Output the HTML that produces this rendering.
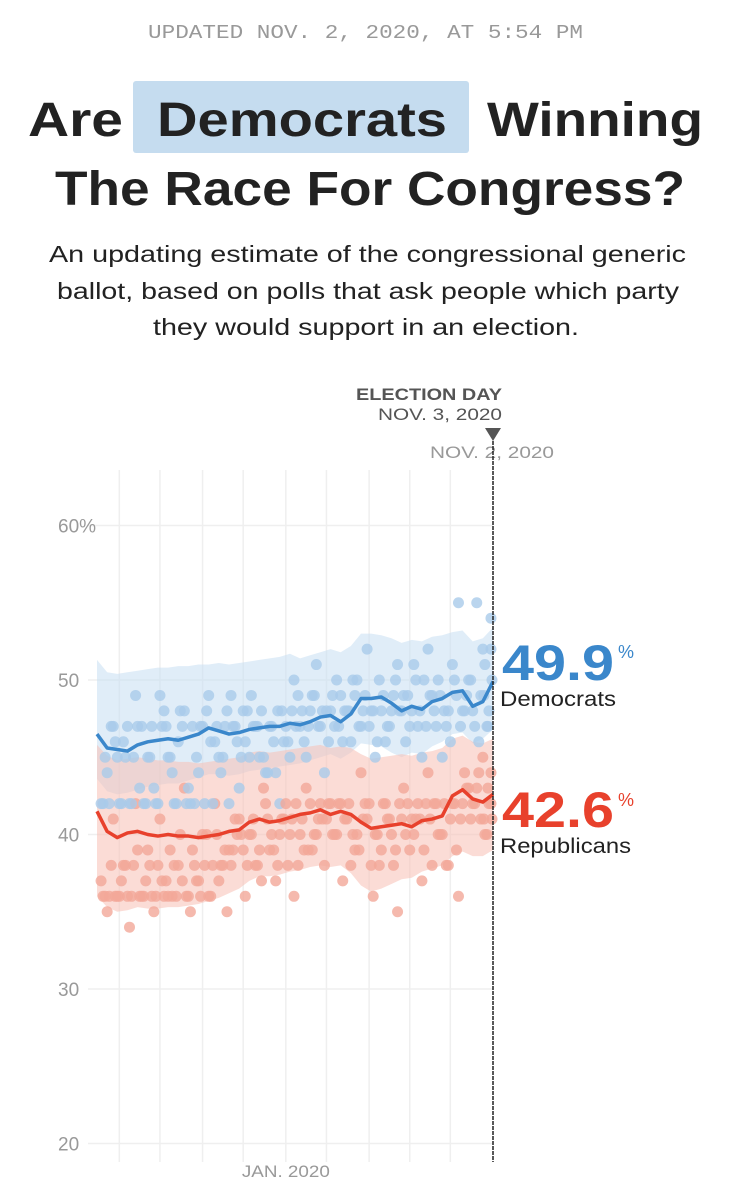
<!DOCTYPE html>
<html><head><meta charset="utf-8"><style>
html,body{margin:0;padding:0;background:#fff;}
svg{display:block;}
</style></head><body>
<svg id="chart" width="731" height="1200" viewBox="0 0 731 1200" xmlns="http://www.w3.org/2000/svg" font-family="'Liberation Sans', sans-serif">
<text x="148" y="38" font-family="'Liberation Mono', monospace" font-size="19" fill="#999" textLength="435" lengthAdjust="spacingAndGlyphs">UPDATED NOV. 2, 2020, AT 5:54 PM</text>
<rect x="133" y="81" width="336" height="72" rx="3" fill="#c5dcef"/>
<text font-size="48" font-weight="bold" fill="#222" y="136">
<tspan x="28" textLength="95" lengthAdjust="spacingAndGlyphs">Are</tspan>
<tspan x="157" textLength="290" lengthAdjust="spacingAndGlyphs">Democrats</tspan>
<tspan x="487" textLength="216" lengthAdjust="spacingAndGlyphs">Winning</tspan></text>
<text x="55" y="205" font-size="48" font-weight="bold" fill="#222" textLength="630" lengthAdjust="spacingAndGlyphs">The Race For Congress?</text>
<g font-size="23" fill="#222">
<text x="49" y="262" textLength="637" lengthAdjust="spacingAndGlyphs">An updating estimate of the congressional generic</text>
<text x="57" y="299" textLength="622" lengthAdjust="spacingAndGlyphs">ballot, based on polls that ask people which party</text>
<text x="153" y="335" textLength="426" lengthAdjust="spacingAndGlyphs">they would support in an election.</text>
</g>
<g id="plot"></g>
<g>
<text x="502" y="400" text-anchor="end" font-size="17" font-weight="bold" fill="#555" textLength="146" lengthAdjust="spacingAndGlyphs">ELECTION DAY</text>
<text x="502" y="420" text-anchor="end" font-size="17" fill="#555" textLength="124" lengthAdjust="spacingAndGlyphs">NOV. 3, 2020</text>
<polygon points="485,428 501,428 493,441" fill="#555"/>
<text x="492" y="458" text-anchor="middle" font-size="17" fill="#999" textLength="124" lengthAdjust="spacingAndGlyphs">NOV. 2, 2020</text>
<line x1="493" y1="441" x2="493" y2="1162" stroke="#222" stroke-width="1.5" stroke-dasharray="4,1"/>
</g>
<g>
<text x="502" y="680" font-size="50" font-weight="bold" fill="#3a87cb" textLength="112" lengthAdjust="spacingAndGlyphs">49.9</text>
<text x="618" y="658" font-size="18" fill="#3a87cb">%</text>
<text x="500" y="706" font-size="21" fill="#222" textLength="116" lengthAdjust="spacingAndGlyphs">Democrats</text>
</g>
<g>
<text x="502" y="827" font-size="50" font-weight="bold" fill="#e8412c" textLength="112" lengthAdjust="spacingAndGlyphs">42.6</text>
<text x="618" y="806" font-size="18" fill="#e8412c">%</text>
<text x="500" y="853" font-size="21" fill="#222" textLength="131" lengthAdjust="spacingAndGlyphs">Republicans</text>
</g>
</svg>
<script>
// months since early Apr 2019, step 0.5
const demLine=[46.5,45.6,45.5,45.4,45.8,46.0,46.1,46.2,46.1,46.3,46.5,46.9,46.7,46.5,46.6,46.8,46.9,47.0,47.0,47.2,47.1,47.3,47.6,47.7,47.3,47.8,48.8,48.8,48.9,48.5,48.0,48.3,48.1,48.6,48.8,49.2,49.3,48.3,48.6,49.9];
const repLine=[41.5,40.2,39.8,40.1,40.2,40.0,39.9,40.0,39.9,39.9,39.8,39.9,40.0,40.2,40.3,40.8,41.0,40.8,40.9,41.1,41.3,41.4,41.6,41.3,41.5,41.3,40.8,40.4,40.5,40.6,40.7,40.5,40.9,41.0,41.2,42.5,42.9,42.3,42.1,42.6];
const demHigh=[51.3,50.5,50.4,50.5,50.6,50.7,50.8,50.8,50.9,50.9,51.0,51.0,51.1,51.0,51.1,51.2,51.3,51.4,51.5,51.7,51.4,51.6,51.8,52.0,51.8,52.2,53.0,53.0,52.9,52.7,52.4,52.6,52.5,52.8,52.9,53.1,53.2,52.5,52.7,53.4];
const demLow=[43.6,42.8,42.6,42.7,42.9,43.1,43.2,43.3,43.3,43.5,43.7,43.9,43.9,43.8,43.9,44.1,44.2,44.3,44.4,44.5,44.6,44.8,45.0,45.2,44.9,45.3,45.9,45.8,45.7,45.3,45.0,45.3,45.2,45.7,46.0,46.5,46.6,45.9,46.2,46.8];
const repHigh=[45.8,45.1,44.8,44.9,45.0,44.9,44.8,44.8,44.7,44.7,44.6,44.7,44.8,44.9,45.0,45.3,45.4,45.3,45.4,45.5,45.6,45.7,45.8,45.6,45.7,45.6,45.2,44.9,45.0,45.1,45.2,45.1,45.3,45.4,45.6,46.2,46.4,46.0,45.9,46.2];
const repLow=[36.0,35.3,35.0,35.1,35.3,35.2,35.2,35.3,35.3,35.4,35.5,35.7,35.9,36.2,36.5,37.0,37.3,37.3,37.4,37.6,37.7,37.9,38.0,37.9,38.0,37.5,36.7,36.3,36.5,36.8,37.1,37.2,37.6,37.8,38.0,38.6,38.9,38.6,38.6,39.0];
const pollMonth=[0.2,0.5,0.8,1.0,1.3,1.6,1.9,2.2,2.5,2.8,3.1,3.4,3.7,4.0,4.3,4.6,4.9,5.2,5.5,5.8,6.1,6.4,6.7,7.0,7.3,7.6,7.9,8.2,8.5,8.8,9.1,9.4,9.7,10.0,10.3,10.6,10.9,11.2,11.5,11.8,12.1,12.4,12.7,13.0,13.3,13.6,13.9,14.2,14.5,14.8,15.1,15.4,15.7,16.0,16.3,16.6,16.9,17.2,17.5,17.8,18.1,18.4,18.7,19.0,19.2,19.4,
0.3,0.6,0.9,1.2,1.5,1.8,2.1,2.4,2.7,3.0,3.3,3.6,3.9,4.2,4.5,4.8,5.1,5.4,5.7,6.0,6.3,6.6,6.9,7.2,7.5,7.8,8.1,8.4,8.7,9.0,9.3,9.6,9.9,10.2,10.5,10.8,11.1,11.4,11.7,12.0,12.3,12.6,12.9,13.2,13.5,13.8,14.1,14.4,14.7,15.0,15.3,15.6,15.9,16.2,16.5,16.8,17.1,17.4,17.7,18.0,18.3,18.6,18.9,19.1,19.3,19.45,
0.4,0.7,1.1,1.4,1.7,2.0,2.3,2.6,2.9,3.2,3.5,3.8,4.1,4.4,4.7,5.0,5.3,5.6,5.9,6.2,6.5,6.8,7.1,7.4,7.7,8.0,8.3,8.6,8.9,9.2,9.5,9.8,10.1,10.4,10.7,11.0,11.3,11.6,11.9,12.2,12.5,12.8,13.1,13.4,13.7,14.0,14.3,14.6,14.9,15.2,15.5,15.8,16.1,16.4,16.7,17.0,17.3,17.6,17.9,18.2,18.5,18.8,19.05,19.25,19.4];
const pollDem=[42,44,47,45,46,42,49,47,45,43,49,47,44,46,48,42,45,47,49,46,44,48,47,43,46,49,47,45,47,44,48,46,50,47,45,49,47,44,48,50,46,48,49,47,52,48,50,46,48,51,49,47,50,45,52,48,49,47,51,55,48,50,55,52,47,54,
42,42,46,42,47,45,43,42,47,42,48,45,42,47,43,42,47,48,42,45,47,49,46,48,45,47,48,44,46,42,47,48,49,46,48,51,48,46,47,49,48,50,47,49,48,46,49,47,50,48,49,51,48,47,49,50,48,46,49,48,50,47,49,51,48,50,
45,47,42,45,42,47,42,45,42,47,45,42,48,42,47,44,42,46,47,45,42,47,45,48,47,45,44,47,48,46,45,47,48,47,49,47,48,49,47,48,46,50,48,47,45,48,47,49,48,46,48,47,50,49,47,45,48,50,47,49,48,46,49,47,52];
const pollRep=[37,35,41,36,38,34,42,36,39,35,41,37,36,38,43,35,37,40,36,42,38,35,39,41,36,40,38,43,39,37,41,38,36,40,43,39,41,38,42,40,37,42,39,44,41,36,38,42,40,35,43,39,41,37,44,42,40,38,42,36,44,41,43,45,40,44,
36,36,36,37,36,38,36,37,36,38,36,39,36,37,36,38,36,40,38,37,39,38,40,39,40,38,37,41,39,40,42,41,38,39,42,40,41,42,40,42,41,40,39,42,38,40,42,41,39,41,42,40,41,42,38,40,42,41,39,42,43,42,41,40,42,41,
36,38,36,38,36,39,36,38,36,37,36,38,40,36,39,37,38,36,40,38,39,41,40,38,41,39,42,40,38,41,40,42,41,39,40,42,41,40,42,41,38,40,41,42,40,39,41,38,42,40,41,42,39,41,42,40,38,42,41,43,42,44,41,43,42];
const yTicks=[20,30,40,50,60];
const yTickLabels=['20','30','40','50','60%'];
const gridMonths=[1.1,3.1,5.2,7.2,9.3,11.3,13.4,15.4,17.4];
const xTickMonth=[9.3];
const xTickLabels=['JAN. 2020'];

const NS='http://www.w3.org/2000/svg';
const plot=document.getElementById('plot');
const X=m=>97+m*(396/19.5);
const Y=v=>680-(v-50)*15.45;
function mk(tag,attrs){const e=document.createElementNS(NS,tag);for(const k in attrs)e.setAttribute(k,attrs[k]);plot.appendChild(e);return e;}
yTicks.forEach((t,i)=>{
  const l=mk('line',{x1:88,x2:493,y1:Y(t),y2:Y(t),stroke:'#efefef','stroke-width':1.5});
  
  
  const tx=mk('text',{x:58,y:Y(t)+7,'font-size':19,fill:'#999'});
  tx.textContent=yTickLabels[i];
  
  
});
gridMonths.forEach(m=>{
  const l=mk('line',{x1:X(m),x2:X(m),y1:470,y2:1162,stroke:'#efefef','stroke-width':1.5});
  
  
});
xTickMonth.forEach((m,i)=>{
  const tx=mk('text',{x:X(m),y:1177,'text-anchor':'middle','font-size':17,fill:'#999',textLength:88,lengthAdjust:'spacingAndGlyphs'});
  tx.textContent=xTickLabels[i];
  
  
});
function band(hi,lo,color,op,name){
  let d='';hi.forEach((v,i)=>{d+=(i?'L':'M')+X(i*0.5)+','+Y(v);});
  for(let i=lo.length-1;i>=0;i--)d+='L'+X(i*0.5)+','+Y(lo[i]);
  const p=mk('path',{d:d+'Z',fill:color,'fill-opacity':op});
  
  
}
band(demHigh,demLow,'#c7def2',0.55,'democrats-uncertainty-band');
band(repHigh,repLow,'#f8c0b4',0.55,'republicans-uncertainty-band');
pollMonth.forEach((m,i)=>{
  const c=mk('circle',{cx:X(m),cy:Y(pollDem[i]),r:5.5,fill:'#a9cbea','fill-opacity':0.8});
  
  
  const r=mk('circle',{cx:X(m),cy:Y(pollRep[i]),r:5.5,fill:'#f3a798','fill-opacity':0.8});
  
  
});
function line(vals,color,name){
  const pts=vals.map((v,i)=>X(i*0.5)+','+Y(v)).join(' ');
  const p=mk('polyline',{points:pts,fill:'none',stroke:color,'stroke-width':3.5,'stroke-linejoin':'round'});
  
  
}
line(demLine,'#3a87cb','democrats-average-line');
line(repLine,'#e8412c','republicans-average-line');
</script>
</body></html>
